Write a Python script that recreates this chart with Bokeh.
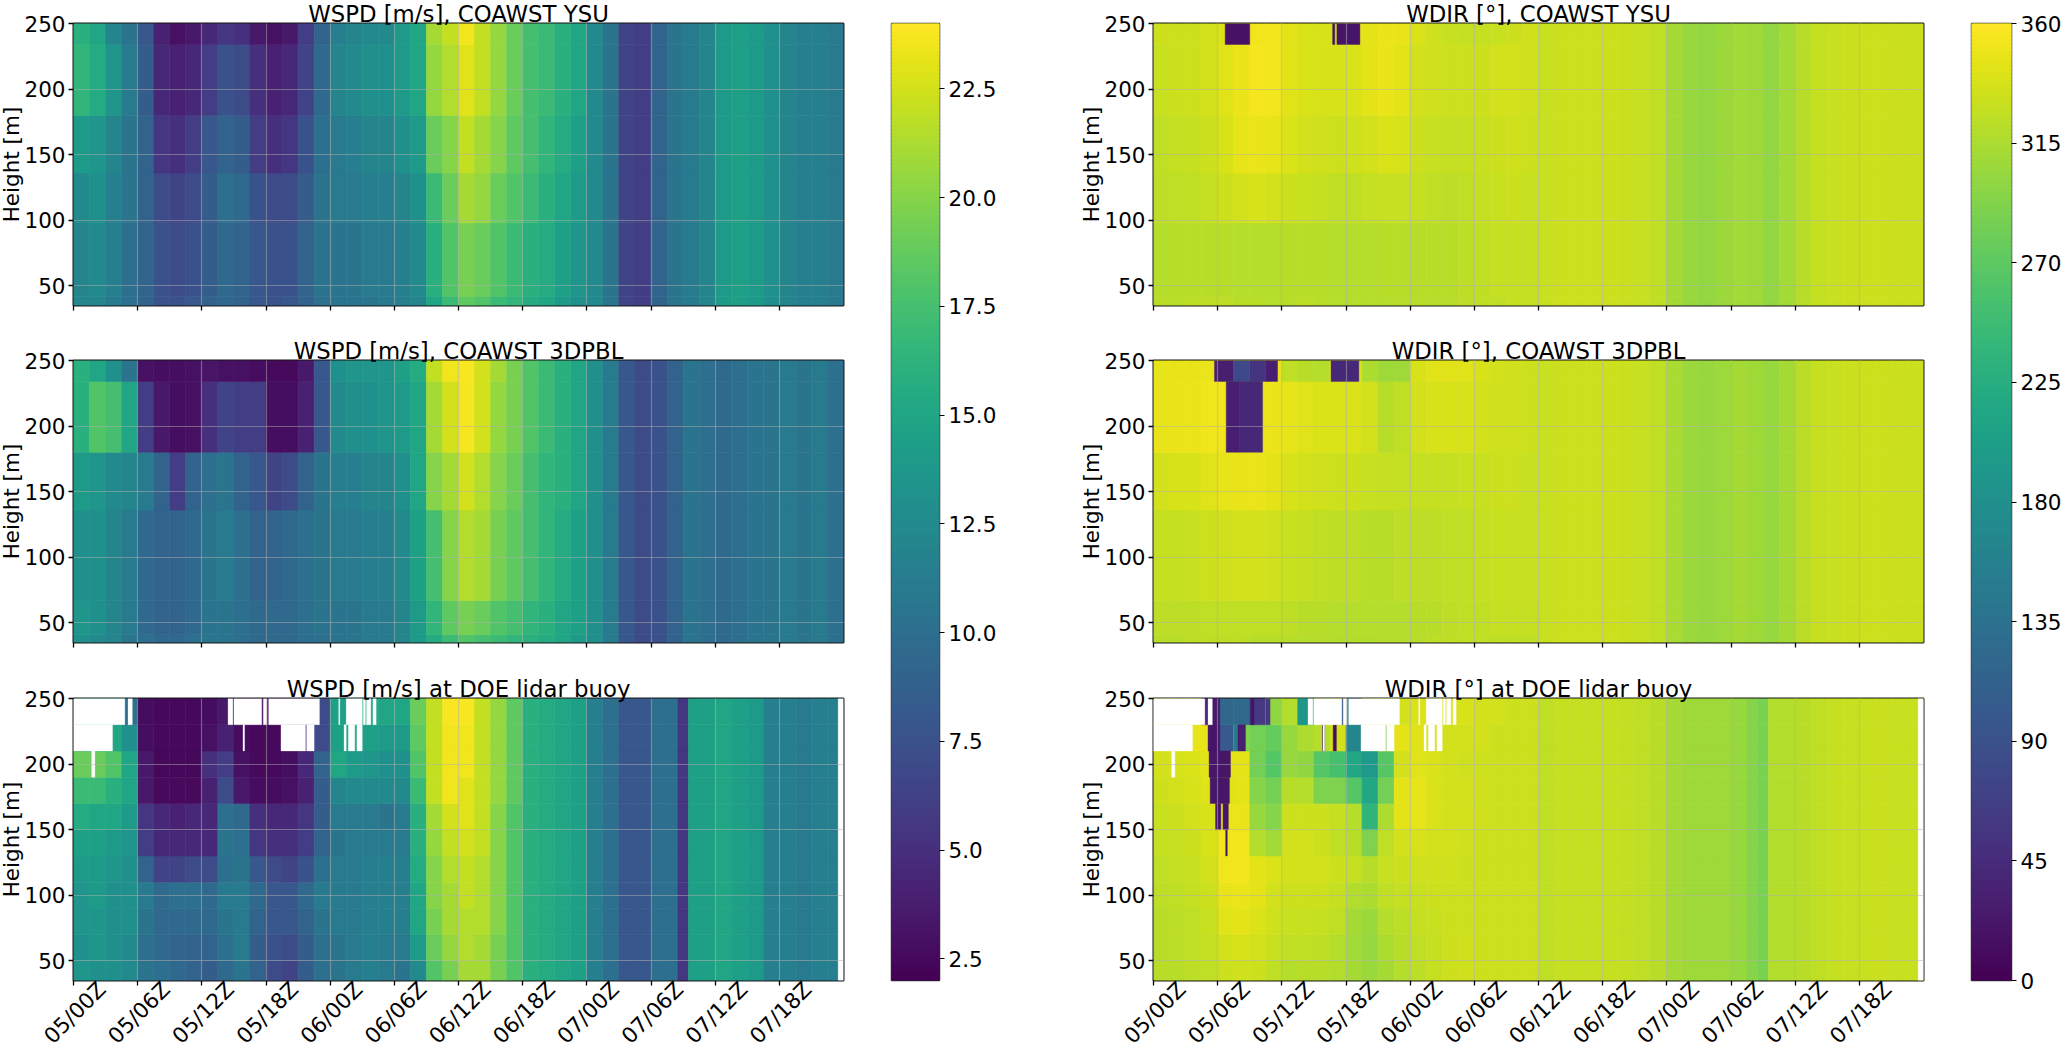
from bokeh.embed import file_html
from bokeh.resources import INLINE
from bokeh.layouts import row, column
from bokeh.models import ColumnDataSource, FixedTicker, LinearAxis, LinearColorMapper
from bokeh.palettes import Viridis256
from bokeh.plotting import figure
import numpy as np

# ---------- time axis (hours after 05/00Z) ----------
time_ticks = [0, 6, 12, 18, 24, 30, 36, 42, 48, 54, 60, 66]
time_labels = ["05/00Z", "05/06Z", "05/12Z", "05/18Z", "06/00Z", "06/06Z",
               "06/12Z", "06/18Z", "07/00Z", "07/06Z", "07/12Z", "07/18Z"]
time_edges = [0, 1.5, 3, 4.5, 6, 7.5, 9, 10.5, 12, 13.5, 15, 16.5, 18, 19.5, 21, 22.5, 24, 25.5, 27, 28.5,
              30, 31.5, 33, 34.5, 36, 37.5, 39, 40.5, 42, 43.5, 45, 46.5, 48, 49.5, 51, 52.5, 54, 55.5,
              57, 58.5, 60, 61.5, 63, 64.5, 66, 67.5, 69, 70.5, 72]
time_edges_lidar = [0, 1.5, 3, 4.5, 6, 7.5, 9, 10.5, 12, 13.5, 15, 16.5, 18, 19.5, 21, 22.5, 24, 25.5, 27, 28.5,
                    30, 31.5, 33, 34.5, 36, 37.5, 39, 40.5, 42, 43.5, 45, 46.5, 48, 49.5, 51, 52.5, 54, 55.5,
                    56.5, 57.5, 60, 61.5, 63, 64.5, 66, 67.5, 69, 70.5, 72]

height_ticks = [50, 100, 150, 200, 250]
edges_ysu = [35, 42, 98, 136, 180, 234, 250]
edges_3d = [35, 41, 67, 136, 180, 234, 250]
edges_lidar = [35, 50, 70, 90, 110, 130, 150, 170, 190, 210, 230, 250]

wspd_ticks = [2.5, 5, 7.5, 10, 12.5, 15, 17.5, 20, 22.5]
wdir_ticks = [0, 45, 90, 135, 180, 225, 270, 315, 360]

# ---------- WSPD YSU (bottom band to top band) ----------
wspd_ysu_tail = [12.5, 10.5, 6.5, 6, 9, 10.5, 11, 12, 14, 14.5, 14, 13, 12, 11.5, 11.5, 11]
wspd_ysu_1 = [12, 12, 11, 10, 9, 7.5, 7.5, 8, 9, 9.5, 9, 8, 7.5, 8, 9, 10, 10.5, 10.5, 10.5, 11, 11.5, 12, 15, 17, 18.5, 18, 17, 16.5, 15.5, 15, 14, 13]
wspd_ysu_2 = [12, 12.5, 11.5, 10, 9, 7.5, 7, 7.5, 8.5, 9.5, 9, 8, 7.5, 7.5, 9, 10.5, 10.5, 10.5, 11, 11, 11.5, 12.5, 16, 18, 19.5, 19, 18, 17, 16, 15.5, 14.5, 13.5]
wspd_ysu_3 = [12.5, 13, 11.5, 10.5, 9, 7, 6.5, 7, 8.5, 10, 9.5, 7.5, 7, 7, 8.5, 10.5, 11, 11, 11.5, 11.5, 12, 13, 17, 19, 21, 20.5, 19, 18, 17, 16, 15, 14]
wspd_ysu_4 = [14, 13.5, 12, 10.5, 9, 5.5, 5, 6, 8, 9, 8.5, 6, 5, 5.5, 7.5, 10, 11, 11.5, 12, 12, 13, 14, 19, 20, 22, 21, 20, 18.5, 17.5, 16.5, 15.5, 14.5]
wspd_ysu_5 = [16.5, 15.5, 13.5, 11, 8.5, 4.5, 4, 4.5, 6, 7.5, 7, 5, 4, 4.5, 6.5, 9.5, 12, 12.5, 13, 13, 14, 15, 20.5, 21.5, 23, 22, 20.5, 19, 17.5, 17, 16, 15]
wspd_ysu_6 = [16, 15, 12, 10.5, 8, 4, 3, 3.5, 4.5, 5.5, 5, 3.5, 3, 3.5, 6, 9, 11.5, 12, 12.5, 12.5, 14, 15, 21, 22, 23.5, 22, 20.5, 19, 17.5, 17, 16, 15]

# ---------- WSPD 3DPBL ----------
wspd_3d_tail = [13, 11, 8, 7, 7.5, 9, 10.5, 10, 9.5, 10, 10.5, 10.5, 11, 10.5, 11, 10]
wspd_3d_1 = [13, 12.5, 12, 10.5, 10, 9.5, 9.5, 10, 10.5, 10.5, 10, 9.5, 9.5, 9.5, 10, 10, 10.5, 10.5, 11, 11, 12, 14, 15.5, 17, 18, 17.5, 17, 16.5, 16, 15.5, 15, 14]
wspd_3d_2 = [13.5, 13, 12, 11, 9.5, 9, 9, 9.5, 10.5, 10.5, 10, 9.5, 9.5, 9.5, 10, 10.5, 10.5, 10.5, 11, 11, 12, 14, 16.5, 18.5, 19.5, 19, 18, 17.5, 16.5, 16, 15, 14.5]
wspd_3d_3 = [13, 13, 12, 11, 9.5, 9, 9, 9.5, 10.5, 11, 10, 9, 9, 9.5, 10, 10.5, 11, 11, 11.5, 11.5, 12.5, 14.5, 17.5, 20, 21.5, 21, 19.5, 18.5, 17.5, 16.5, 15.5, 14.5]
wspd_3d_4 = [14, 13.5, 12.5, 12, 11, 9, 6, 9, 10, 10.5, 9, 8, 6.5, 7, 9, 10.5, 11.5, 11.5, 12, 12, 13, 15, 20, 21, 22.5, 21.5, 20, 19, 17.5, 16.5, 16, 15]
wspd_3d_5 = [16, 18, 17.5, 15, 6, 3.5, 2.8, 3, 5, 6.5, 6, 6, 2.8, 2.8, 4, 8, 12.5, 13, 13, 13.5, 14, 15, 21, 22.5, 23.7, 22.5, 20.5, 19.5, 18, 17, 16, 15]
wspd_3d_6 = [16, 15, 13, 10.5, 3, 2.8, 2.8, 3, 3.2, 3, 3, 2.7, 2.6, 2.6, 3.5, 8, 13, 13.5, 13.5, 13.5, 14.5, 15.5, 22, 23.5, 23.8, 22.5, 21, 19.5, 18, 17, 16, 15]

# ---------- WSPD lidar ----------
wspd_lidar_tail = [16, 15.5, 15, 14.5, 11.5, 10, 8, 8, 10, 10, 5.5, 14.5, 15, 14.5, 14, 11.5, 11.5, 11, 11.5, 11.5]
wspd_lidar_01 = [13.5, 13, 13, 12.5, 10.5, 10, 9.5, 9, 8.5, 9.5, 10.5, 9, 7, 6.5, 8.5, 10, 10.5, 11, 11.5, 11, 10.5, 12.5, 18, 19.5, 21, 21, 19.5, 18]
wspd_lidar_02 = [13, 13.5, 13, 12.5, 10, 9.5, 9, 9, 9, 10, 11, 8.5, 7.5, 7, 8.5, 10, 10.5, 11, 11.5, 11, 11, 14, 19, 20.5, 21.5, 21, 19.5, 18]
wspd_lidar_03 = [13.5, 13.5, 13, 13, 10.5, 9.5, 9.5, 9.5, 9.5, 10.5, 11, 9, 8, 8, 9, 10.5, 11, 11, 11.5, 11.5, 11.5, 15, 19.5, 21, 21.5, 21.5, 20, 18]
wspd_lidar_04 = [13.5, 14, 13, 13, 11, 9.5, 10, 10, 9.5, 11, 11, 9.5, 8, 8, 9.5, 11, 11, 11, 11.5, 11.5, 11.5, 15, 20, 21, 22, 21.5, 20, 18]
wspd_lidar_05 = [14, 14, 13.5, 13, 9, 6.5, 6.5, 7, 7, 10, 10.5, 8, 7, 6.5, 7.5, 10, 11, 11, 11.5, 11.5, 11.5, 15.5, 20, 21.5, 22, 21.5, 20, 18]
wspd_lidar_06 = [14.5, 14.5, 14, 13.5, 6, 4.5, 4.5, 4.5, 4.5, 10.5, 10, 5.5, 5, 5, 6, 9, 10.5, 11, 11, 11, 11, 16, 20.5, 22, 22.5, 22, 20, 18]
wspd_lidar_07 = [15.5, 15, 15, 14, 5.5, 4.5, 4, 4.5, 4.5, 10, 9.5, 5, 4.5, 4.5, 5.5, 8.5, 11, 11, 11, 10.5, 11, 16, 21, 22.5, 23, 22, 20, 18]
wspd_lidar_08 = [17, 17, 16, 15, 3.5, 2.6, 2.6, 2.6, 4, 7, 3.5, 2.7, 2.7, 3, 4, 8.5, 12, 12.5, 12.5, 12.5, 12.5, 17, 22, 23.5, 23, 22, 20.5, 18.5]
wspd_lidar_09 = [19, 19, 18, 15, 3.5, 2.5, 2.5, 2.5, 5, 6, 3, 2.6, 2.6, 2.8, 4.5, 9, 15, 14, 13.5, 13, 13, 18, 22, 23.5, 23.5, 22, 20.5, 18.5]
wspd_lidar_10 = [14, 14, 15, 13, 2.8, 2.5, 2.5, 2.5, 3, 4, 2.7, 2.6, 2.6, 3, 5, 7, 14.5, 15, 14.5, 14, 14, 18.5, 22, 23.5, 23.5, 22, 20.5, 18.5]
wspd_lidar_11 = [14, 14, 14, 10, 2.7, 2.5, 2.5, 2.5, 2.7, 3.5, 2.7, 2.7, 2.7, 3, 4, 7, 14.5, 15, 15.5, 15, 15, 19, 22, 23.8, 23.8, 22, 20.5, 18.5]

# ---------- WDIR YSU ----------
wdir_ysu_tail = [330, 332, 333, 332, 332, 331, 330, 326, 312, 305, 302, 306, 310, 308, 302, 310, 322, 328, 330, 331, 332, 332, 331, 331]
wdir_ysu_1 = [322, 322, 324, 324, 324, 322, 322, 320, 322, 324, 322, 320, 320, 320, 320, 322, 322, 322, 322, 324, 326, 326, 328, 328]
wdir_ysu_2 = [320, 322, 322, 322, 322, 320, 320, 320, 322, 322, 322, 320, 320, 320, 322, 322, 322, 322, 322, 324, 326, 328, 328, 328]
wdir_ysu_3 = [324, 326, 326, 328, 332, 336, 338, 336, 332, 330, 328, 326, 326, 328, 330, 330, 328, 326, 324, 326, 328, 330, 332, 330]
wdir_ysu_4 = [326, 328, 328, 332, 338, 346, 350, 346, 340, 336, 334, 332, 334, 336, 340, 338, 332, 330, 328, 328, 330, 332, 334, 332]
wdir_ysu_5 = [330, 332, 332, 336, 342, 350, 355, 354, 344, 340, 338, 338, 340, 345, 350, 345, 336, 334, 332, 332, 333, 335, 336, 334]
wdir_ysu_6 = [332, 332, 332, 335, 340, 345, 352, 352, 344, 340, 338, 338, 342, 345, 350, 348, 340, 334, 330, 328, 328, 330, 333, 334]
# start hour, end hour, lower height, upper height, direction
wdir_ysu_patch_t0 = [6.7, 16.75, 17.15]
wdir_ysu_patch_t1 = [9.0, 16.95, 19.3]
wdir_ysu_patch_h0 = [234, 234, 234]
wdir_ysu_patch_h1 = [250, 250, 250]
wdir_ysu_patch_v = [18, 18, 20]

# ---------- WDIR 3DPBL ----------
wdir_3d_tail = [330, 332, 333, 332, 332, 331, 330, 326, 314, 306, 304, 307, 311, 309, 304, 311, 323, 328, 330, 331, 332, 332, 331, 331]
wdir_3d_1 = [322, 322, 324, 324, 324, 324, 322, 322, 322, 320, 320, 318, 318, 318, 320, 320, 322, 324, 326, 326, 326, 326, 326, 326]
wdir_3d_2 = [324, 324, 324, 326, 326, 326, 326, 326, 324, 322, 322, 320, 320, 320, 320, 320, 322, 322, 324, 326, 326, 328, 328, 328]
wdir_3d_3 = [328, 328, 330, 332, 334, 336, 336, 334, 330, 328, 326, 324, 324, 322, 322, 324, 324, 324, 326, 326, 328, 330, 330, 330]
wdir_3d_4 = [336, 338, 338, 342, 346, 348, 350, 345, 338, 336, 334, 332, 332, 330, 328, 328, 328, 328, 328, 330, 330, 332, 332, 330]
wdir_3d_5 = [348, 350, 350, 352, 352, 350, 350, 350, 346, 342, 340, 340, 340, 335, 322, 326, 336, 338, 338, 338, 336, 334, 334, 332]
wdir_3d_6 = [346, 348, 348, 350, 350, 350, 350, 350, 325, 322, 320, 340, 340, 315, 308, 308, 338, 342, 344, 342, 338, 336, 334, 332]
wdir_3d_patch_t0 = [5.7, 7.5, 9.0, 10.5, 16.6, 6.8, 8.0]
wdir_3d_patch_t1 = [7.5, 9.0, 10.5, 11.6, 19.2, 8.0, 10.2]
wdir_3d_patch_h0 = [234, 234, 234, 234, 234, 180, 180]
wdir_3d_patch_h1 = [250, 250, 250, 250, 250, 234, 234]
wdir_3d_patch_v = [30, 80, 55, 30, 42, 30, 40]

# ---------- WDIR lidar ----------
wdir_lidar_tail = [325, 328, 329, 328, 328, 327, 326, 322, 312, 308, 308, 308, 304, 294, 288, 318, 322, 325, 328, 330, 330, 331, 330, 330]
wdir_lidar_01 = [322, 322, 324, 326, 332, 334, 332, 326, 320, 322, 322, 318, 312, 306, 312, 320, 324, 328, 332, 334, 332, 332, 332, 332]
wdir_lidar_02 = [322, 324, 326, 328, 335, 338, 335, 330, 326, 326, 324, 320, 310, 304, 315, 322, 326, 328, 332, 334, 333, 332, 332, 332]
wdir_lidar_03 = [322, 324, 326, 330, 342, 345, 340, 334, 330, 330, 328, 326, 312, 306, 320, 324, 328, 330, 332, 333, 333, 332, 332, 332]
wdir_lidar_04 = [324, 326, 328, 332, 348, 350, 345, 336, 332, 332, 332, 328, 318, 316, 325, 328, 330, 332, 333, 333, 333, 332, 332, 332]
wdir_lidar_05 = [326, 328, 330, 335, 352, 354, 345, 340, 335, 336, 336, 332, 328, 322, 330, 332, 334, 334, 334, 333, 333, 333, 332, 332]
wdir_lidar_06 = [328, 330, 332, 338, 352, 352, 320, 310, 335, 335, 332, 325, 322, 290, 325, 335, 338, 336, 335, 334, 333, 333, 333, 332]
wdir_lidar_07 = [330, 332, 335, 338, 348, 350, 305, 295, 332, 332, 332, 328, 320, 235, 315, 345, 346, 340, 336, 335, 334, 333, 333, 332]
wdir_lidar_08 = [332, 335, 338, 342, 340, 345, 295, 285, 322, 320, 290, 290, 265, 215, 285, 345, 346, 340, 336, 335, 334, 333, 333, 332]
wdir_lidar_09 = [335, 338, 340, 345, 345, 345, 285, 265, 305, 300, 265, 255, 215, 195, 265, 335, 342, 340, 336, 334, 334, 333, 333, 332]
wdir_lidar_10 = [345, 345, 348, 348, 100, 290, 285, 275, 305, 315, 320, 335, 165, 270, 345, 345, 342, 338, 336, 336, 335, 333, 333, 332]
wdir_lidar_11 = [335, 335, 335, 40, 120, 125, 60, 300, 318, 225, 330, 330, 100, 335, 335, 335, 340, 342, 340, 338, 336, 335, 333, 332]
wdir_lidar_patch_t0 = [5.55, 9.1, 10.5, 13.5, 17.6, 18.1, 5.1, 7.5, 7.9, 15.8, 16.8, 21.7, 5.2, 5.3, 5.8, 6.5, 6.75]
wdir_lidar_patch_t1 = [6.2, 9.4, 10.9, 14.5, 17.75, 18.25, 6.2, 7.9, 8.6, 16.0, 17.1, 21.8, 7.2, 7.1, 6.3, 7.0, 6.9]
wdir_lidar_patch_h0 = [230, 230, 230, 230, 230, 230, 210, 210, 210, 210, 210, 210, 190, 170, 150, 150, 130]
wdir_lidar_patch_h1 = [250, 250, 250, 250, 250, 250, 230, 230, 230, 230, 230, 230, 210, 190, 170, 170, 150]
wdir_lidar_patch_v = [25, 20, 60, 190, 100, 170, 20, 150, 30, 20, 15, 270, 22, 22, 22, 22, 22]

# ---------- gaps in the lidar record ----------
gap_t0 = [0, 5.1, 14.45, 15, 17.75, 18.25, 24.8, 25.5, 27.1, 27.4, 28, 0, 15.85, 19.4, 21.8, 25.3, 25.7, 26.5, 1.7, 71.5]
gap_t1 = [4.8, 5.5, 14.9, 17.6, 18.1, 23, 24.9, 27, 27.3, 27.8, 28.3, 3.65, 16, 21.7, 22.5, 25.5, 26.3, 27, 2.0, 72]
gap_h0 = [230, 230, 230, 230, 230, 230, 230, 230, 230, 230, 230, 210, 210, 210, 210, 210, 210, 210, 190, 35]
gap_h1 = [250, 250, 250, 250, 250, 250, 250, 250, 250, 250, 250, 230, 230, 230, 230, 230, 230, 230, 210, 250]

FONT = "DejaVu Sans"
FS = "21.5px"
# labels are anchored at their upper right end, so this centres them on the ticks
LABEL_SHIFT_HOURS = 2.65


def style_axes(p):
    for ax in [p.xaxis[0], p.yaxis[0]]:
        ax.major_label_text_font = FONT
        ax.major_label_text_font_size = FS
        ax.major_label_text_color = "black"
        ax.major_tick_line_color = "black"
        ax.major_tick_line_width = 1.3
        ax.major_tick_out = 5
        ax.major_tick_in = 0
        ax.minor_tick_line_color = None
        ax.axis_line_color = None


def panel(title, tedges, hedges, rows, low, high, top_border, bottom_border, bottom=False, pt=None, gaps=False, left_border=73):
    p = figure(frame_width=770, frame_height=282, x_range=(0, 72), y_range=(35, 250),
               output_backend="svg", toolbar_location=None,
               min_border_left=left_border, min_border_right=10,
               min_border_top=top_border, min_border_bottom=bottom_border)
    mapper = LinearColorMapper(palette=Viridis256, low=low, high=high)
    l, r, b, t, v = [], [], [], [], []
    for k, vals in enumerate(rows):
        for i, val in enumerate(vals):
            l.append(tedges[i]); r.append(tedges[i + 1])
            b.append(hedges[k]); t.append(hedges[k + 1]); v.append(val)
    src = ColumnDataSource(dict(l=l, r=r, b=b, t=t, v=v))
    spec = {"field": "v", "transform": mapper}
    p.quad(left="l", right="r", bottom="b", top="t", source=src, fill_color=spec, line_color=spec, line_width=0.6)
    if pt is not None:
        src2 = ColumnDataSource(dict(l=pt[0], r=pt[1], b=pt[2], t=pt[3], v=pt[4]))
        p.quad(left="l", right="r", bottom="b", top="t", source=src2, fill_color=spec, line_color=spec, line_width=0.4)
    if gaps:
        p.quad(left=gap_t0, right=gap_t1, bottom=gap_h0, top=gap_h1, fill_color="white", line_color="white", line_width=0.3)
    p.title.text = title
    p.title.align = "center"
    p.title.text_font = FONT
    p.title.text_font_size = "22.8px"
    p.title.text_font_style = "normal"
    p.title.text_color = "black"
    p.title.standoff = -7
    style_axes(p)
    p.xaxis[0].ticker = FixedTicker(ticks=time_ticks)
    p.xaxis[0].major_label_overrides = {k: "" for k in time_ticks}
    p.xaxis[0].major_label_standoff = 0
    if bottom:
        shifted = [t_ + LABEL_SHIFT_HOURS for t_ in time_ticks]
        lab_ax = LinearAxis(ticker=FixedTicker(ticks=shifted),
                            major_label_overrides=dict(zip(shifted, time_labels)),
                            major_label_orientation=np.pi / 4, major_label_text_font=FONT,
                            major_label_text_font_size=FS, major_label_text_color="black",
                            major_label_standoff=0, major_tick_line_color=None, major_tick_out=0, major_tick_in=0,
                            minor_tick_line_color=None, axis_line_color=None)
        p.add_layout(lab_ax, "below")
    p.yaxis[0].ticker = FixedTicker(ticks=height_ticks)
    p.yaxis[0].major_label_standoff = 3
    p.yaxis[0].axis_label = "Height [m]"
    p.yaxis[0].axis_label_text_font = FONT
    p.yaxis[0].axis_label_text_font_size = FS
    p.yaxis[0].axis_label_text_font_style = "normal"
    p.yaxis[0].axis_label_text_color = "black"
    p.yaxis[0].axis_label_standoff = -3
    p.xgrid.ticker = FixedTicker(ticks=time_ticks)
    p.ygrid.ticker = FixedTicker(ticks=height_ticks)
    for g in [p.xgrid[0], p.ygrid[0]]:
        g.level = "overlay"
        g.grid_line_color = "#b0b0b0"
        g.grid_line_alpha = 0.5
        g.grid_line_width = 1.2
    p.outline_line_color = "black"
    p.outline_line_width = 2
    p.outline_line_alpha = 0.9
    return p


def colorbar(low, high, ticks, labels, left, frame_w, right):
    levels = np.linspace(low, high, 257)
    p = figure(frame_width=frame_w, frame_height=957, x_range=(0, 1), y_range=(low, high),
               y_axis_location="right", output_backend="svg", toolbar_location=None,
               min_border_left=left, min_border_right=right, min_border_top=23, min_border_bottom=72)
    p.quad(left=0, right=1, bottom=levels[:-1], top=levels[1:], fill_color=list(Viridis256),
           line_color=list(Viridis256), line_width=1.2)
    p.xaxis.visible = False
    p.grid.visible = False
    ax = p.yaxis[0]
    ax.ticker = FixedTicker(ticks=ticks)
    ax.major_label_overrides = dict(zip(ticks, labels))
    ax.major_label_text_font = FONT
    ax.major_label_text_font_size = FS
    ax.major_label_text_color = "black"
    ax.major_label_standoff = 4
    ax.major_tick_line_color = "black"
    ax.major_tick_out = 5
    ax.major_tick_in = 0
    ax.minor_tick_line_color = None
    ax.axis_line_color = None
    p.outline_line_color = "#333333"
    p.outline_line_width = 1.5
    return p


ysu_rows = [r + wspd_ysu_tail for r in [wspd_ysu_1, wspd_ysu_2, wspd_ysu_3, wspd_ysu_4, wspd_ysu_5, wspd_ysu_6]]
d3_rows = [r + wspd_3d_tail for r in [wspd_3d_1, wspd_3d_2, wspd_3d_3, wspd_3d_4, wspd_3d_5, wspd_3d_6]]
lidar_rows = [r + wspd_lidar_tail for r in [wspd_lidar_01, wspd_lidar_02, wspd_lidar_03, wspd_lidar_04, wspd_lidar_05,
                                            wspd_lidar_06, wspd_lidar_07, wspd_lidar_08, wspd_lidar_09, wspd_lidar_10, wspd_lidar_11]]
dir_ysu_rows = [r + wdir_ysu_tail for r in [wdir_ysu_1, wdir_ysu_2, wdir_ysu_3, wdir_ysu_4, wdir_ysu_5, wdir_ysu_6]]
dir_3d_rows = [r + wdir_3d_tail for r in [wdir_3d_1, wdir_3d_2, wdir_3d_3, wdir_3d_4, wdir_3d_5, wdir_3d_6]]
dir_lidar_rows = [r + wdir_lidar_tail for r in [wdir_lidar_01, wdir_lidar_02, wdir_lidar_03, wdir_lidar_04, wdir_lidar_05,
                                                wdir_lidar_06, wdir_lidar_07, wdir_lidar_08, wdir_lidar_09, wdir_lidar_10, wdir_lidar_11]]

WS = (2, 24)
WD = (0, 360)
p1 = panel("WSPD [m/s], COAWST YSU", time_edges, edges_ysu, ysu_rows, *WS, 23, 26)
p2 = panel("WSPD [m/s], COAWST 3DPBL", time_edges, edges_3d, d3_rows, *WS, 29, 27)
p3 = panel("WSPD [m/s] at DOE lidar buoy", time_edges_lidar, edges_lidar, lidar_rows, *WS, 29, 70, bottom=True, gaps=True)
p4 = panel("WDIR [°], COAWST YSU", time_edges, edges_ysu, dir_ysu_rows, *WD, 23, 26, left_border=134,
           pt=(wdir_ysu_patch_t0, wdir_ysu_patch_t1, wdir_ysu_patch_h0, wdir_ysu_patch_h1, wdir_ysu_patch_v))
p5 = panel("WDIR [°], COAWST 3DPBL", time_edges, edges_3d, dir_3d_rows, *WD, 29, 27, left_border=134,
           pt=(wdir_3d_patch_t0, wdir_3d_patch_t1, wdir_3d_patch_h0, wdir_3d_patch_h1, wdir_3d_patch_v))
p6 = panel("WDIR [°] at DOE lidar buoy", time_edges_lidar, edges_lidar, dir_lidar_rows, *WD, 29, 70, bottom=True, left_border=134, gaps=True,
           pt=(wdir_lidar_patch_t0, wdir_lidar_patch_t1, wdir_lidar_patch_h0, wdir_lidar_patch_h1, wdir_lidar_patch_v))

cb1 = colorbar(*WS, wspd_ticks, ["2.5", "5.0", "7.5", "10.0", "12.5", "15.0", "17.5", "20.0", "22.5"], 38, 48, 80)
cb2 = colorbar(*WD, wdir_ticks, [str(t) for t in wdir_ticks], 38, 40, 50)

root = row(column(p1, p2, p3, spacing=0), cb1, column(p4, p5, p6, spacing=0), cb2, spacing=0, margin=(0, 0, 0, -4))
open("out.html", "w").write(file_html(root, INLINE))
